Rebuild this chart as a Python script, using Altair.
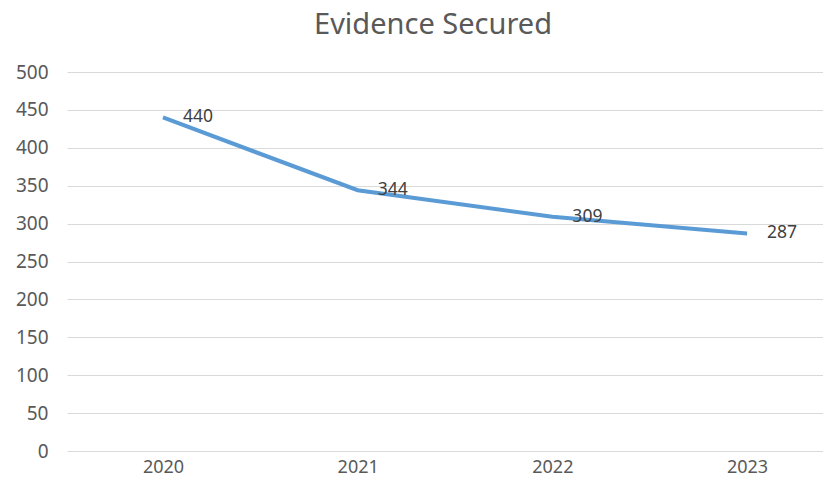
import altair as alt
import pandas as pd

years = [2020, 2021, 2022, 2023]
values = [440, 344, 309, 287]
y_ticks = [0, 50, 100, 150, 200, 250, 300, 350, 400, 450, 500]

df = pd.DataFrame({"year": years, "value": values})

FONT = "Noto Sans"

x_enc = alt.X(
    "year:Q",
    scale=alt.Scale(domain=[2019.507, 2023.39], nice=False, zero=False),
    axis=alt.Axis(values=years, format="d", grid=False, domain=False, ticks=False,
                  labelFont=FONT, labelFontSize=18, labelColor="#595959",
                  labelPadding=7, labelOverlap=False, title=None),
)
y_enc = alt.Y(
    "value:Q",
    scale=alt.Scale(domain=[0, 500], nice=False),
    axis=alt.Axis(values=y_ticks, grid=True, gridColor="#D9D9D9", gridWidth=1,
                  domain=False, ticks=False, labelFont=FONT, labelFontSize=19,
                  labelColor="#595959", labelPadding=19, labelOverlap=False, title=None),
)

base = alt.Chart(df).encode(x=x_enc, y=y_enc)
line = base.mark_line(color="#5B9BD5", strokeWidth=4)
labels = base.mark_text(
    align="left", baseline="middle", dx=20, dy=0, font=FONT, fontSize=17.5, color="#404040"
).encode(text=alt.Text("value:Q"))

chart = (
    alt.layer(line, labels)
    .properties(
        width=756,
        height=379,
        background="white",
        title=alt.TitleParams("Evidence Secured", font=FONT, fontSize=29, fontWeight="normal",
                              color="#595959", anchor="middle", offset=23, dx=-12),
        autosize=alt.AutoSizeParams(type="none"),
        padding={"left": 59, "top": 64, "right": 0, "bottom": 28},
    )
    .configure_view(strokeWidth=0, strokeOpacity=0)
)

chart.save("out.html", embed_options={"renderer": "svg", "actions": False})
